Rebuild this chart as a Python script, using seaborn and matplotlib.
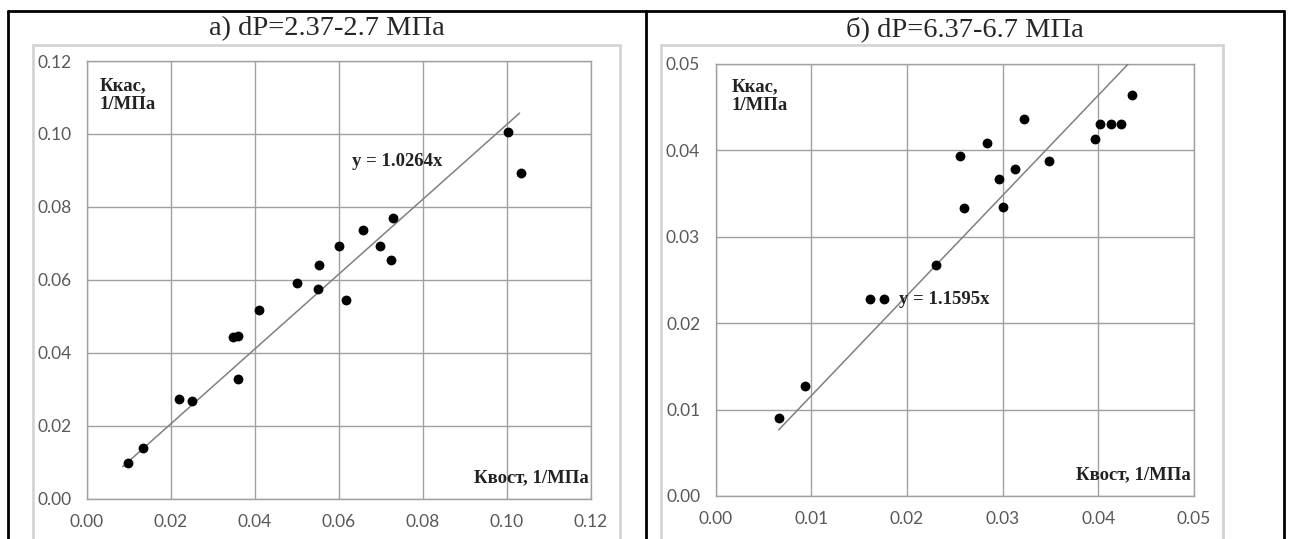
import matplotlib
matplotlib.use("Agg")
import matplotlib.pyplot as plt
import seaborn as sns
import pandas as pd
import numpy as np
from matplotlib.patches import Rectangle
from matplotlib.lines import Line2D

# ---------------- data ----------------
titles = ["а) dP=2.37-2.7 МПа", "б) dP=6.37-6.7 МПа"]

x_a = [0.0098, 0.0133, 0.0219, 0.0249, 0.0347, 0.0360, 0.0359, 0.0410, 0.0499,
       0.0551, 0.0552, 0.0601, 0.0616, 0.0656, 0.0698, 0.0723, 0.0728, 0.1002, 0.1033]
y_a = [0.0098, 0.0138, 0.0273, 0.0268, 0.0443, 0.0446, 0.0328, 0.0518, 0.0592,
       0.0575, 0.0641, 0.0693, 0.0544, 0.0736, 0.0693, 0.0655, 0.0769, 0.1004, 0.0894]
slope_a = 1.0264
fit_x_a = [0.0085, 0.1030]

x_b = [0.0066, 0.0093, 0.0161, 0.0176, 0.0230, 0.0256, 0.0260, 0.0284, 0.0296,
       0.0300, 0.0313, 0.0322, 0.0349, 0.0397, 0.0402, 0.0413, 0.0424, 0.0435]
y_b = [0.0090, 0.0127, 0.0228, 0.0228, 0.0267, 0.0394, 0.0333, 0.0409, 0.0367,
       0.0334, 0.0378, 0.0436, 0.0388, 0.0413, 0.0431, 0.0431, 0.0431, 0.0464]
slope_b = 1.1595
fit_x_b = [0.0066, 0.0431]

xticks_a = [0.00, 0.02, 0.04, 0.06, 0.08, 0.10, 0.12]
yticks_a = [0.00, 0.02, 0.04, 0.06, 0.08, 0.10, 0.12]
xticks_b = [0.00, 0.01, 0.02, 0.03, 0.04, 0.05]
yticks_b = [0.00, 0.01, 0.02, 0.03, 0.04, 0.05]

eq_labels = ["y = 1.0264x", "y = 1.1595x"]
ylab = "Ккас,\n1/МПа"
xlab = "Квост, 1/МПа"

# ---------------- figure ----------------
sns.set_style("white")
plt.rcParams['font.family'] = ['Lato', 'DejaVu Sans']
W, H = 1289, 539
fig = plt.figure(figsize=(W / 100, H / 100), dpi=100)

def fx(px):
    return px / W

def fy(py):
    return 1 - py / H

# chart-area frames (Excel-like)
for (l, r) in [(33, 620), (661, 1223)]:
    fig.patches.append(Rectangle((fx(l), fy(560)), fx(r - l), fy(45) - fy(560),
                                 transform=fig.transFigure, facecolor="white",
                                 edgecolor="#d4d4d4", linewidth=2.0, zorder=-5))

# table borders
bw = 2.0
fig.add_artist(Line2D([fx(8), fx(1284)], [fy(11), fy(11)], color="black", lw=bw))
fig.add_artist(Line2D([fx(8), fx(8)], [fy(11), 0], color="black", lw=bw))
fig.add_artist(Line2D([fx(646), fx(646)], [fy(11), 0], color="black", lw=bw))
fig.add_artist(Line2D([fx(1284), fx(1284)], [fy(11), 0], color="black", lw=bw))

# titles
fig.text(fx(327), fy(29), titles[0], ha="center", va="center",
         family="Liberation Serif", fontsize=20.5)
fig.text(fx(965), fy(29), titles[1], ha="center", va="center",
         family="Liberation Serif", fontsize=20.5)

panels = [
    dict(rect=(87, 61, 591, 498.5), x=x_a, y=y_a, slope=slope_a, fx_=fit_x_a,
         xt=xticks_a, yt=yticks_a, lim=0.12, eq=eq_labels[0], eqpos=(0.0630, 0.0925),
         ylpos=(0.0030, 0.1155), xlpos=(0.1195, 0.0035)),
    dict(rect=(715.5, 64, 1194, 496), x=x_b, y=y_b, slope=slope_b, fx_=fit_x_b,
         xt=xticks_b, yt=yticks_b, lim=0.05, eq=eq_labels[1], eqpos=(0.0192, 0.0227),
         ylpos=(0.0017, 0.0484), xlpos=(0.0497, 0.0015)),
]

for p in panels:
    l, t, r, b = p["rect"]
    ax = fig.add_axes([fx(l), fy(b), fx(r - l), fy(t) - fy(b)])
    ax.set_zorder(2)
    df = pd.DataFrame({"x": p["x"], "y": p["y"]})
    fit = pd.DataFrame({"x": p["fx_"], "y": [p["slope"] * v for v in p["fx_"]]})
    sns.lineplot(data=fit, x="x", y="y", ax=ax, color="#808080", linewidth=1.1, zorder=3)
    sns.scatterplot(data=df, x="x", y="y", ax=ax, color="black", s=50,
                    edgecolor="black", linewidth=0, zorder=4)
    ax.set_xlim(0, p["lim"])
    ax.set_ylim(0, p["lim"])
    ax.set_xticks(p["xt"])
    ax.set_yticks(p["yt"])
    ax.set_xticklabels([f"{v:.2f}" for v in p["xt"]])
    ax.set_yticklabels([f"{v:.2f}" for v in p["yt"]])
    ax.grid(True, color="#a0a0a0", linewidth=1.0)
    ax.set_axisbelow(True)
    for s in ax.spines.values():
        s.set_color("#a0a0a0")
        s.set_linewidth(1.0)
    ax.tick_params(axis="both", colors="#595959", labelsize=12.5, length=5,
                   width=1.0, direction="out", pad=6)
    ax.tick_params(axis="both", color="#a0a0a0")
    ax.set_xlabel("")
    ax.set_ylabel("")
    ax.text(*p["eqpos"], p["eq"], family="Liberation Serif", weight="bold",
            fontsize=13.5, ha="left", va="center", color="#222222", zorder=5)
    ax.text(*p["ylpos"], ylab, family="Liberation Serif", weight="bold",
            fontsize=13.5, ha="left", va="top", color="#222222", linespacing=1.15)
    ax.text(*p["xlpos"], xlab, family="Liberation Serif", weight="bold",
            fontsize=13.5, ha="right", va="bottom", color="#222222")

fig.savefig("out.png", dpi=100)
